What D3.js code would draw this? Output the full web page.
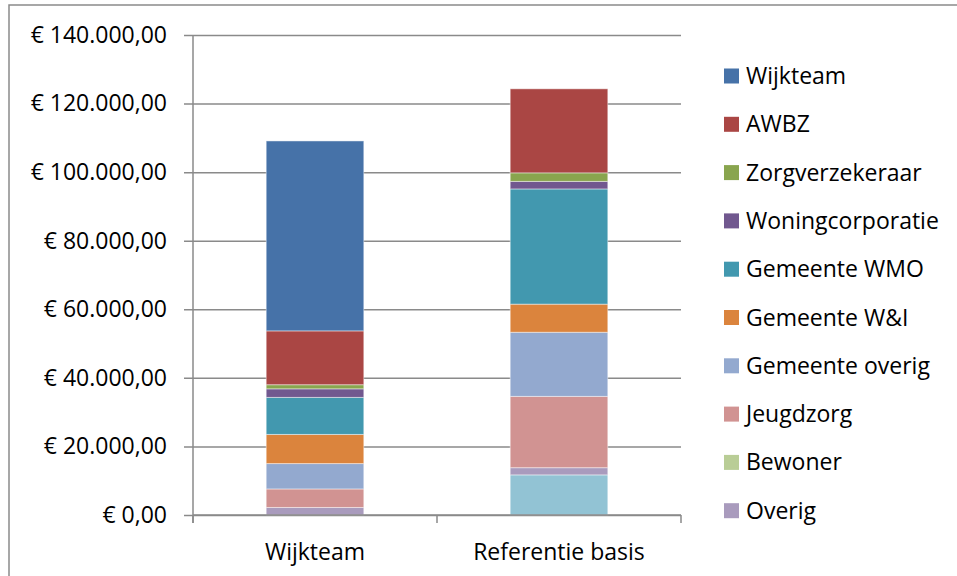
<!DOCTYPE html>
<html><head><meta charset="utf-8">
<script src="https://cdn.jsdelivr.net/npm/d3@7"></script>
<style>body{margin:0;background:#fff}svg{display:block}</style>
</head><body>
<script>
const categories = ["Wijkteam", "Referentie basis"];
// stacking order bottom -> top
const seriesNames = ["(overig 2)", "Overig", "Bewoner", "Jeugdzorg", "Gemeente overig", "Gemeente W&I", "Gemeente WMO", "Woningcorporatie", "Zorgverzekeraar", "AWBZ", "Wijkteam"];
const valuesWijkteam = [0, 2200, 0, 5400, 7400, 8500, 10800, 2500, 1200, 15700, 55400];
const valuesReferentie = [11700, 2100, 0, 20800, 18700, 8200, 33600, 2200, 2500, 24500, 0];
const colors = ["#92C3D4", "#A99BBD", "#B9CD96", "#D19392", "#93A9CF", "#DB843D", "#4298AF", "#71588F", "#89A54E", "#AA4644", "#4672A8"];
const legendNames = ["Wijkteam", "AWBZ", "Zorgverzekeraar", "Woningcorporatie", "Gemeente WMO", "Gemeente W&I", "Gemeente overig", "Jeugdzorg", "Bewoner", "Overig"];
const yTicks = [0, 20000, 40000, 60000, 80000, 100000, 120000, 140000];

const W = 957, H = 576;
const svg = d3.select("body").append("svg").attr("width", W).attr("height", H);
const font = "'Open Sans', sans-serif";
const fs = 23;

svg.append("rect").attr("x", 9).attr("y", 5).attr("width", 1000).attr("height", 1000)
  .attr("fill", "none").attr("stroke", "#8a8a8a").attr("stroke-width", 1.5);

const pLeft = 193, pRight = 681, pTop = 35, pBottom = 515;
const x = d3.scaleBand().domain(categories).range([pLeft, pRight]).paddingInner(0.6).paddingOuter(0.3);
const y = d3.scaleLinear().domain([0, 140000]).range([pBottom, pTop]);

const table = categories.map((c, i) => {
  const vals = i === 0 ? valuesWijkteam : valuesReferentie;
  const o = {cat: c};
  seriesNames.forEach((s, j) => o[s] = vals[j]);
  return o;
});
const stacked = d3.stack().keys(seriesNames)(table);

const fmt = v => "€ " + d3.format(",.2f")(v).replace(/,/g, "X").replace(/\./g, ",").replace(/X/g, ".");
const yAxis = d3.axisLeft(y).tickValues(yTicks).tickSize(-(pRight - pLeft)).tickSizeOuter(0).tickFormat(fmt).tickPadding(26);
const gy = svg.append("g").attr("transform", `translate(${pLeft},0)`).call(yAxis);
gy.select(".domain").remove();
gy.selectAll(".tick line").attr("stroke", "#8a8a8a").attr("stroke-width", 1.5).attr("x1", -9);
gy.selectAll(".tick text").attr("font-family", font).attr("font-size", fs).attr("fill", "#000");

const gBars = svg.append("g");
stacked.forEach((layer, j) => {
  gBars.selectAll(null).data(layer.filter(d => d[1] - d[0] > 0)).enter().append("rect")
    .attr("x", d => x(d.data.cat))
    .attr("width", x.bandwidth())
    .attr("y", d => y(d[1]))
    .attr("height", d => y(d[0]) - y(d[1]))
    .attr("fill", colors[j])
    .attr("stroke", "rgba(255,255,255,0.45)")
    .attr("stroke-width", 1);
});

svg.append("line").attr("x1", pLeft).attr("x2", pLeft).attr("y1", pTop).attr("y2", pBottom + 8)
  .attr("stroke", "#8a8a8a").attr("stroke-width", 1.5);
const xAxis = d3.axisBottom(x).tickSize(0).tickPadding(29);
const gx = svg.append("g").attr("transform", `translate(0,${pBottom})`).call(xAxis);
gx.select(".domain").attr("stroke", "#8a8a8a").attr("stroke-width", 1.5).attr("d", `M${pLeft},0H${pRight}`);
gx.selectAll(".tick text").attr("font-family", font).attr("font-size", fs).attr("fill", "#000");
[pLeft, pLeft + x.step(), pRight].forEach(px => {
  svg.append("line").attr("x1", px).attr("x2", px).attr("y1", pBottom).attr("y2", pBottom + 8)
    .attr("stroke", "#8a8a8a").attr("stroke-width", 1.5);
});

const lg = svg.append("g");
legendNames.forEach((n, i) => {
  const cy = 76 + i * 48.3;
  const col = colors[seriesNames.indexOf(n)];
  lg.append("rect").attr("x", 724).attr("y", cy - 7.5).attr("width", 15).attr("height", 15).attr("fill", col);
  lg.append("text").attr("x", 746).attr("y", cy).attr("dy", "0.35em")
    .attr("font-family", font).attr("font-size", fs).attr("fill", "#000").text(n);
});
</script>
</body></html>
